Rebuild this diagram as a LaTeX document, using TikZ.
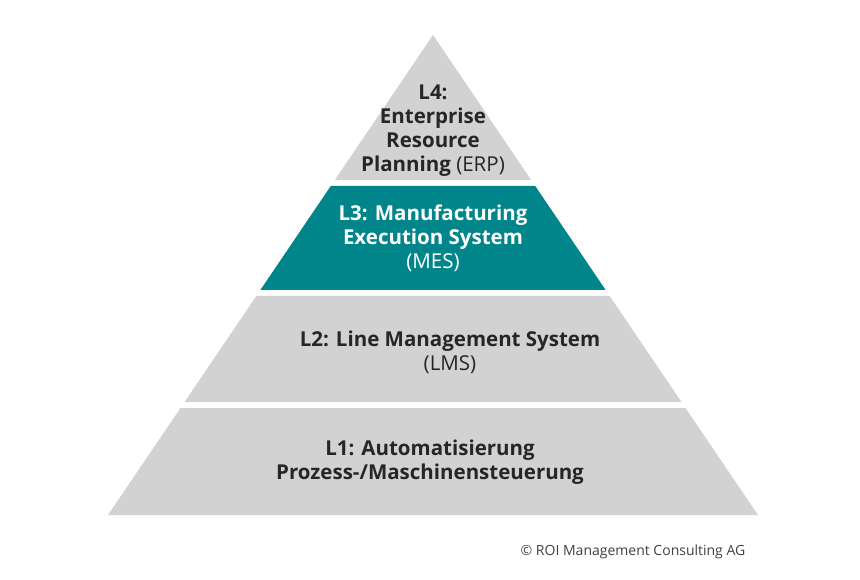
\documentclass[tikz,border=0pt]{standalone}
\usepackage{fontspec}
\setmainfont{Open Sans}
\begin{document}
\begin{tikzpicture}[x=1pt,y=-1pt,
  band/.style={fill=gray!35,draw=none},
  lbl/.style={align=center,font=\fontsize{20.5}{24}\selectfont\bfseries,text=black!85}]
\useasboundingbox (0,0) rectangle (860,580);
\def\xl#1{433-0.677*(#1-35)}
\def\xr#1{433+0.677*(#1-35)}
\fill[band] (433,35) -- ({\xr{180}},180) -- ({\xl{180}},180) -- cycle;
\fill[fill={rgb,255:red,0;green,134;blue,138}] ({\xl{186}},186) -- ({\xr{186}},186) -- ({\xr{290}},290) -- ({\xl{290}},290) -- cycle;
\fill[band] ({\xl{296}},296) -- ({\xr{296}},296) -- ({\xr{402}},402) -- ({\xl{402}},402) -- cycle;
\fill[band] ({\xl{408}},408) -- ({\xr{408}},408) -- ({\xr{515}},515) -- ({\xl{515}},515) -- cycle;
\node[lbl] (l4) at (433,131) {L4:\\Enterprise\\Resource\\Planning \mdseries(ERP)};
\node[lbl,text=white] (l3) at (433,238) {L3: Manufacturing\\Execution System\\\mdseries(MES)};
\node[lbl] (l2) at (450,352) {L2: Line Management System\\\mdseries(LMS)};
\node[lbl] (l1) at (430,462) {L1: Automatisierung\\Prozess-/Maschinensteuerung};
\node[font=\fontsize{14}{16}\selectfont,text=black!75] (c) at (633,552) {© ROI Management Consulting AG};
\end{tikzpicture}
\end{document}
